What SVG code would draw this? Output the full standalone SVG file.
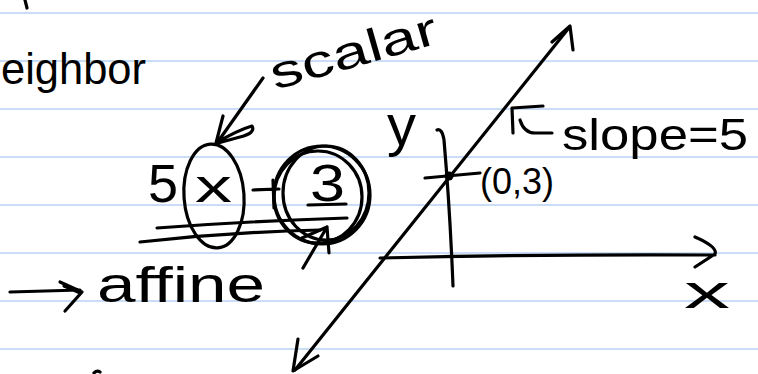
<svg xmlns="http://www.w3.org/2000/svg" width="758" height="374" viewBox="0 0 758 374">
<style>
.rule{stroke:#c9ddf6;stroke-width:2.2}
.hw{font-family:"Liberation Sans","DejaVu Sans",sans-serif;fill:#000}
.ink{fill:none;stroke:#000;stroke-width:3.2;stroke-linecap:round;stroke-linejoin:round}
</style>
<rect width="758" height="374" fill="#fff"/>
<g id="ruled-lines">
<line class="rule" x1="0" y1="13" x2="758" y2="13"/>
<line class="rule" x1="0" y1="61" x2="758" y2="61"/>
<line class="rule" x1="0" y1="109" x2="758" y2="109"/>
<line class="rule" x1="0" y1="157" x2="758" y2="157"/>
<line class="rule" x1="0" y1="205" x2="758" y2="205"/>
<line class="rule" x1="0" y1="253" x2="758" y2="253"/>
<line class="rule" x1="0" y1="301" x2="758" y2="301"/>
<line class="rule" x1="0" y1="349" x2="758" y2="349"/>
</g>
<g id="fragments">
<path class="ink" d="M25,0 L27,8"/>
<path class="ink" d="M94,373 Q97,370 100,372"/>
</g>
<g id="neighbor">
<text class="hw" x="1" y="84" font-size="44" textLength="145" lengthAdjust="spacingAndGlyphs">eighbor</text>
</g>
<g id="scalar">
<text class="hw" x="275" y="90" font-size="46" textLength="172" lengthAdjust="spacingAndGlyphs" transform="rotate(-16 275 90)">scalar</text>
</g>
<g id="expression">
<text class="hw" x="148" y="202" font-size="54">5</text>
<ellipse class="ink" cx="214" cy="196" rx="30" ry="52" transform="rotate(-4 214 196)"/>
<text class="hw" x="195" y="202" font-size="46" textLength="37" lengthAdjust="spacingAndGlyphs">x</text>
<path class="ink" d="M253,190 L279,189 M273,180 L274,208"/>
<text class="hw" x="310" y="201" font-size="52" textLength="35" lengthAdjust="spacingAndGlyphs">3</text>
<path class="ink" d="M308,205 L346,204"/>
<ellipse class="ink" cx="322" cy="195" rx="48" ry="49"/>
<ellipse class="ink" cx="326" cy="193" rx="43" ry="47" stroke-width="2.4"/>
<ellipse class="ink" cx="318" cy="197" rx="44" ry="46" stroke-width="2.2"/>
<path class="ink" d="M157,228 Q250,221 347,218"/>
<path class="ink" d="M140,242 Q230,232 320,230"/>
</g>
<g id="affine">
<text class="hw" x="97" y="302" font-size="50" textLength="168" lengthAdjust="spacingAndGlyphs">affine</text>
</g>
<g id="y-label">
<text class="hw" x="387" y="145" font-size="58">y</text>
</g>
<g id="point">
<circle cx="449" cy="176" r="4.5" fill="#000"/>
<text class="hw" x="480" y="194" font-size="37" textLength="74" lengthAdjust="spacingAndGlyphs">(0,3)</text>
</g>
<g id="slope">
<path class="ink" d="M512,108 L513,133 M512,108 L543,106 M520,120 Q524,133 535,133 L552,133"/>
<text class="hw" x="562" y="150" font-size="44" textLength="186" lengthAdjust="spacingAndGlyphs">slope=5</text>
</g>
<g id="x-label">
<text class="hw" x="684" y="308" font-size="46" textLength="46" lengthAdjust="spacingAndGlyphs">x</text>
</g>
<g id="connectors">
<path class="ink" d="M263,78 L217,143 M223,116 L216,143 Q238,130 252,126 Q256,133 240,137 L218,143"/>
<path class="ink" d="M303,268 L327,227 M302,238 L327,227 L329,253"/>
<path class="ink" d="M10,292 L80,290 M60,282 L82,292 L65,311 M64,286 L78,292"/>
<path class="ink" d="M437,130 Q442,128 444,140 Q450,210 453,286"/>
<path class="ink" d="M425,178 L480,173"/>
<path class="ink" d="M380,258 Q550,254 715,255 M695,237 Q718,247 715,254 L695,267"/>
<path class="ink" d="M295,370 L568,29 M552,42 L570,26 L573,50"/>
<path class="ink" d="M298,339 L293,371 L318,356"/>
</g>
</svg>
